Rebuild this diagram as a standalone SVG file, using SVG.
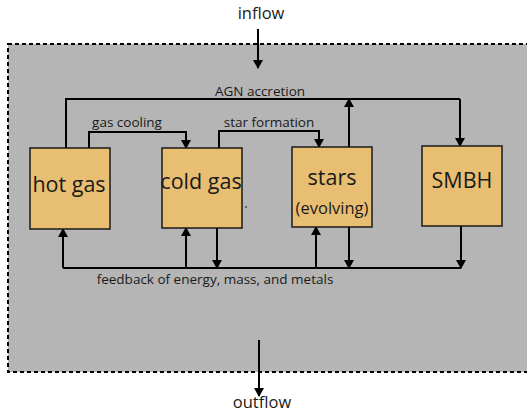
<svg xmlns="http://www.w3.org/2000/svg" width="527" height="413" viewBox="0 0 527 413">
<style>
.t{font-family:"Open Sans","DejaVu Sans",sans-serif;fill:#1a1a1a;text-anchor:middle}
.lbl{font-size:13.5px}
.big{font-size:21.5px}
.io{font-size:16.5px}
.box{fill:#e8be72;stroke:#1a1a1a;stroke-width:1.5}
.c{fill:none;stroke:#000;stroke-width:2}
.ca{fill:none;stroke:#000;stroke-width:2;marker-end:url(#ah)}
</style>
<defs>
<marker id="ah" markerWidth="10" markerHeight="10" refX="8" refY="5" orient="auto" markerUnits="userSpaceOnUse">
<path d="M0,0 L9,5 L0,10 z" fill="#000"/>
</marker>
</defs>
<g id="halo">
<rect x="8" y="44" width="530" height="328" fill="#b5b5b5" stroke="#000" stroke-width="2" stroke-dasharray="4,3"/>
</g>
<g id="connectors">
<path class="ca" d="M258,29 V68"/>
<path class="ca" d="M259,340 V396"/>
<path class="c" d="M66,148 V99 H460"/>
<path class="ca" d="M460,99 V146"/>
<path class="ca" d="M349,147 V99"/>
<path class="ca" d="M89,148 V132 H186 V148"/>
<path class="ca" d="M219,148 V131 H319 V147"/>
<path class="c" d="M63,268 H461"/>
<path class="ca" d="M63,268 V229"/>
<path class="ca" d="M186,268 V228"/>
<path class="ca" d="M316,268 V227"/>
<path class="ca" d="M217,228 V268"/>
<path class="ca" d="M349,227 V268"/>
<path class="ca" d="M461,226 V268"/>
</g>
<g id="labels">
<text class="t io" x="261" y="19">inflow</text>
<text class="t io" x="262" y="408">outflow</text>
<text class="t lbl" x="260" y="96">AGN accretion</text>
<text class="t lbl" x="127" y="127">gas cooling</text>
<text class="t lbl" x="269" y="127">star formation</text>
<text class="t lbl" x="215" y="284">feedback of energy, mass, and metals</text>
<circle cx="246" cy="207" r="0.8" fill="#000"/>
</g>
<g id="hot-gas">
<rect class="box" x="30" y="148" width="80" height="81"/>
<text class="t big" x="69" y="192">hot gas</text>
</g>
<g id="cold-gas">
<rect class="box" x="162" y="148" width="80" height="80"/>
<text class="t big" x="201" y="189">cold gas</text>
</g>
<g id="stars">
<rect class="box" x="292" y="147" width="80" height="80"/>
<text class="t big" x="332" y="185">stars</text>
<text class="t" style="font-size:16.5px" x="332" y="214">(evolving)</text>
</g>
<g id="smbh">
<rect class="box" x="422" y="146" width="80" height="80"/>
<text class="t big" x="462" y="188">SMBH</text>
</g>
</svg>
